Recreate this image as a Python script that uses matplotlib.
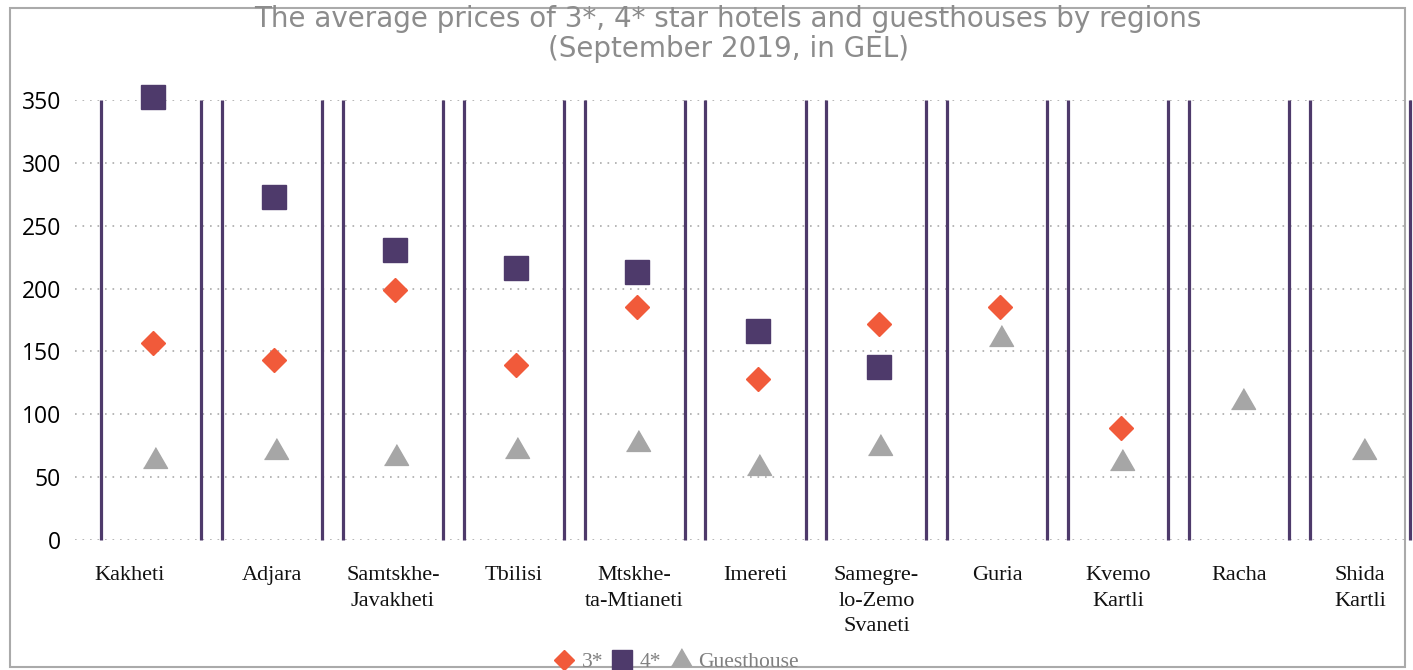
import numpy as np
import matplotlib
matplotlib.use("Agg")
import matplotlib.pyplot as plt
from matplotlib.patches import Rectangle
from matplotlib.lines import Line2D
from matplotlib.transforms import ScaledTranslation

categories = ["Kakheti", "Adjara", "Samtskhe-\nJavakheti", "Tbilisi", "Mtskhe-\nta-Mtianeti",
              "Imereti", "Samegre-\nlo-Zemo\nSvaneti", "Guria", "Kvemo\nKartli", "Racha", "Shida\nKartli"]
three_star = [157, 143, 199, 139, 185, 128, 172, 185, 89, np.nan, np.nan]
four_star = [352, 273, 231, 216, 213, 166, 138, np.nan, np.nan, np.nan, np.nan]
guesthouse = [63, 70, 65, 71, 76, 57, 73, 160, 61, 110, 70]
yticks = [0, 50, 100, 150, 200, 250, 300, 350]

C3 = "#F15A3A"
C4 = "#4E3A6B"
CG = "#A6A6A6"

W, H = 1413, 670
fig = plt.figure(figsize=(W / 100, H / 100), dpi=100)
ax = fig.add_axes([75 / W, (H - 540) / H, (1413 - 75) / W, 440 / H])

x = np.arange(len(categories))
half = 0.414
ax.vlines(x - half, 0, 350, color=C4, lw=2.3, clip_on=False, zorder=2)
ax.vlines(x + half, 0, 350, color=C4, lw=2.3, clip_on=False, zorder=2)

tri = [(-1, -0.577), (1, -0.577), (0, 1.155)]
ax.plot(x + 0.02, three_star, ls="none", marker="D", ms=12, color=C3, clip_on=False, zorder=4)
ax.plot(x + 0.02, four_star, ls="none", marker="s", ms=17, color=C4, clip_on=False, zorder=4)
ax.plot(x + 0.03, guesthouse, ls="none", marker=tri, ms=20, color=CG, clip_on=False, zorder=4)

ax.set_xlim(-0.629, 10.438)
ax.set_ylim(0, 350)
ax.set_yticks(yticks)
ax.set_yticklabels([str(v) for v in yticks], fontfamily="Open Sans", fontsize=16.5, color="black")
ax.set_xticks(x)
ax.set_xticklabels(categories, fontfamily="Liberation Serif", fontsize=16, color="#111111",
                   linespacing=1.45, va="top")
ax.tick_params(axis="both", length=0)
ax.tick_params(axis="y", pad=10)
ax.tick_params(axis="x", pad=19)
lbl = ax.get_xticklabels()[0]
lbl.set_transform(lbl.get_transform() + ScaledTranslation(-0.21, 0, fig.dpi_scale_trans))

ax.yaxis.grid(True, color="#AAAAAA", lw=1.2, dashes=(1, 3.5))
ax.set_axisbelow(True)
for s in ax.spines.values():
    s.set_visible(False)

fig.text(728 / W, 1 - 34 / H,
         "The average prices of 3*, 4* star hotels and guesthouses by regions\n(September 2019, in GEL)",
         ha="center", va="center", fontsize=20, color="#8C8C8C", linespacing=1.12,
         fontfamily="DejaVu Sans")

fig.add_artist(Rectangle((10 / W, 3 / H), (1405 - 10) / W, (662 - 3) / H, transform=fig.transFigure,
                         fill=False, edgecolor="#AAAAAA", lw=1.5))

handles = [Line2D([], [], ls="none", marker="D", ms=10, color=C3),
           Line2D([], [], ls="none", marker="s", ms=14, color=C4),
           Line2D([], [], ls="none", marker=tri, ms=17, color=CG)]
leg = fig.legend(handles, ["3*", "4*", "Guesthouse"], loc="center", bbox_to_anchor=(676 / W, 8 / H),
                 ncol=3, frameon=False, handlelength=1.0, handletextpad=0.3, columnspacing=0.4,
                 prop={"family": "Liberation Serif", "size": 15.5})
for t in leg.get_texts():
    t.set_color("#808080")

fig.savefig("out.png", dpi=100)
